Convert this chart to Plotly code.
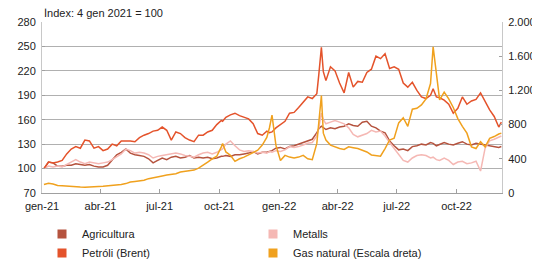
import plotly.graph_objects as go

dates = [
    "2021-01-04", "2021-01-11", "2021-01-18", "2021-01-25", "2021-02-01", "2021-02-08", "2021-02-15", "2021-02-22",
    "2021-03-01", "2021-03-08", "2021-03-15", "2021-03-22", "2021-03-29", "2021-04-05", "2021-04-12", "2021-04-19",
    "2021-04-26", "2021-05-03", "2021-05-10", "2021-05-17", "2021-05-24", "2021-05-31", "2021-06-07", "2021-06-14",
    "2021-06-21", "2021-06-28", "2021-07-05", "2021-07-12", "2021-07-19", "2021-07-26", "2021-08-02", "2021-08-09",
    "2021-08-16", "2021-08-23", "2021-08-30", "2021-09-06", "2021-09-13", "2021-09-20", "2021-09-27", "2021-10-04",
    "2021-10-06", "2021-10-11", "2021-10-18", "2021-10-25", "2021-11-01", "2021-11-08", "2021-11-15", "2021-11-22",
    "2021-11-29", "2021-12-06", "2021-12-13", "2021-12-17", "2021-12-21", "2021-12-27",
    "2022-01-03", "2022-01-10", "2022-01-17", "2022-01-24", "2022-01-31", "2022-02-07", "2022-02-14", "2022-02-21",
    "2022-02-28", "2022-03-03", "2022-03-07", "2022-03-10", "2022-03-14", "2022-03-21", "2022-03-28", "2022-04-04",
    "2022-04-11", "2022-04-18", "2022-04-25", "2022-05-02", "2022-05-09", "2022-05-16", "2022-05-23", "2022-05-30",
    "2022-06-06", "2022-06-13", "2022-06-20", "2022-06-27", "2022-07-04", "2022-07-11", "2022-07-18", "2022-07-25",
    "2022-08-01", "2022-08-08", "2022-08-15", "2022-08-22", "2022-08-26", "2022-08-31", "2022-09-05", "2022-09-12",
    "2022-09-19", "2022-09-26", "2022-10-03", "2022-10-10", "2022-10-17", "2022-10-24", "2022-10-31", "2022-11-07",
    "2022-11-14", "2022-11-21", "2022-11-28", "2022-12-05", "2022-12-09",
]

agricultura = [
    100, 108, 107, 103, 103, 104, 104, 106, 105, 104, 105, 103, 102, 102, 104, 110,
    117, 120, 124, 119, 117, 116, 115, 112, 107, 110, 113, 111, 114, 115, 113, 114,
    116, 113, 114, 113, 114, 112, 113, 115, 115, 116, 115, 117, 117, 118, 119, 121,
    118, 120, 120, 121, 122, 125,
    126, 124, 127, 128, 130, 132, 134, 136, 144, 149, 152, 150, 148, 150, 149, 151,
    152, 155, 153, 152, 157, 158, 152, 150, 146, 144, 134, 128, 123, 124, 122, 127,
    128, 130, 129, 132, 131, 128, 130, 132, 130, 129, 131, 133, 130, 129, 131, 130,
    129, 128, 127, 126, 127,
]

metalls = [
    100, 103, 102, 103, 102, 105, 109, 111, 108, 106, 108, 107, 106, 107, 108, 111,
    114, 118, 124, 122, 119, 120, 119, 117, 113, 115, 116, 117, 118, 119, 118, 116,
    115, 114, 117, 119, 120, 118, 120, 123, 124, 130, 134, 128, 123, 121, 122, 121,
    119, 120, 119, 121, 120, 122,
    121, 123, 127, 126, 127, 129, 131, 132, 140, 150, 168, 160, 155, 157, 159, 157,
    155, 150, 142, 139, 141, 143, 147, 145, 146, 140, 132, 125, 118, 110, 108, 113,
    116, 117, 116, 113, 114, 111, 110, 113, 110, 105, 108, 109, 106, 107, 109, 97,
    125, 134, 136, 139, 140,
]

petroli = [
    100, 108, 107, 108, 110, 118, 124, 127, 125, 135, 134, 125, 127, 122, 124, 130,
    128, 134, 134, 134, 133, 138, 141, 143, 146, 147, 151, 147, 135, 145, 143, 138,
    135, 133, 141, 141, 145, 147, 154, 159, 158, 163, 166, 168, 165, 163, 161, 155,
    143, 141, 146, 144, 145, 150,
    154, 158, 168, 169, 175, 181, 188, 186, 192, 215, 249, 219, 208, 225, 220, 205,
    193, 218, 200, 207, 206, 218, 222, 238, 235, 241, 223, 225, 222, 205, 200, 206,
    196, 188, 186, 190, 198, 188, 187, 184, 179, 168, 174, 188, 179, 183, 185, 193,
    183, 172, 164, 151, 157,
]

gas_natural = [
    100, 115, 105, 88, 85, 80, 72, 70, 70, 68, 68, 70, 75, 78, 82, 88,
    94, 100, 110, 128, 135, 140, 150, 168, 180, 195, 200, 210, 215, 225, 245, 250,
    255, 268, 290, 320, 360, 400, 430, 540, 580, 480, 440, 370, 400, 420, 445, 470,
    500, 560, 650, 760, 910, 560,
    380, 440, 420, 410, 420, 440, 400, 390, 580, 820, 1140, 700, 620, 560, 540, 520,
    510, 540, 530, 520, 500, 480, 445, 440, 430, 520, 620, 640, 820, 880, 780, 980,
    990, 1030, 1100, 1280, 1710, 1400, 1090, 1180, 1100, 1000, 870, 780, 700, 540, 520, 600,
    540, 640, 660, 690, 700,
]

tick_dates = ["2021-01-01", "2021-04-01", "2021-07-01", "2021-10-01",
              "2022-01-01", "2022-04-01", "2022-07-01", "2022-10-01"]
tick_labels = ["gen-21", "abr-21", "jul-21", "oct-21", "gen-22", "abr-22", "jul-22", "oct-22"]

names = ["Agricultura", "Metalls", "Petróli (Brent)", "Gas natural (Escala dreta)"]
colors = ["#b5533e", "#f5b8b4", "#e4532b", "#f0a11e"]

FONT = "Liberation Sans, Arial, sans-serif"
fig = go.Figure()

series = [agricultura, metalls, petroli]
for vals, c in zip(series, colors[:3]):
    fig.add_trace(go.Scatter(x=dates, y=vals, mode="lines", line=dict(color=c, width=1.5),
                             showlegend=False, hoverinfo="skip"))
fig.add_trace(go.Scatter(x=dates, y=gas_natural, mode="lines", yaxis="y2",
                         line=dict(color=colors[3], width=1.5), showlegend=False, hoverinfo="skip"))

# legend-only square markers
for n, c in zip(names, colors):
    fig.add_trace(go.Scatter(x=[None], y=[None], mode="markers", name=n,
                             marker=dict(symbol="square", size=9, color=c)))

# the page body adds an 8px offset, so the figure is 8px smaller on each axis
fig.update_layout(
    width=532, height=253,
    margin=dict(l=34, r=38, t=14, b=68, autoexpand=False),
    paper_bgcolor="white", plot_bgcolor="white",
    font=dict(family=FONT, size=11, color="#222222"),
    separators=",.",
    showlegend=True,
    legend=dict(orientation="h", x=0.0, y=-0.155, xanchor="left", yanchor="top",
                entrywidth=166, entrywidthmode="pixels", itemwidth=30,
                font=dict(family=FONT, size=11, color="#222222"),
                bgcolor="rgba(0,0,0,0)", tracegroupgap=0),
    xaxis=dict(type="date", range=["2021-01-01", "2022-12-10"],
               tickvals=tick_dates, ticktext=tick_labels,
               showgrid=False, showline=True, linecolor="#a0a0a0", linewidth=1,
               ticks="inside", ticklen=4, tickcolor="#a0a0a0", ticklabelstandoff=3,
               tickfont=dict(size=11, color="#222222"), zeroline=False),
    yaxis=dict(range=[70, 280], dtick=30, tick0=70, showgrid=True, gridcolor="#b0b0b0",
               gridwidth=1, showline=True, linecolor="#c8c8c8", ticks="inside",
               ticklen=3, tickcolor="#a0a0a0", zeroline=False, ticklabelstandoff=3,
               tickfont=dict(size=11, color="#222222")),
    yaxis2=dict(range=[0, 2000], dtick=400, tick0=0, overlaying="y", side="right",
                showgrid=False, showline=True, linecolor="#c8c8c8", ticks="inside",
                ticklen=3, tickcolor="#a0a0a0", zeroline=False, tickformat=",.0f",
                ticklabelstandoff=3,
                tickfont=dict(size=11, color="#222222")),
    annotations=[dict(text="Índex: 4 gen 2021 = 100", xref="paper", yref="paper",
                      x=0, y=1, xanchor="left", yanchor="bottom", yshift=1,
                      showarrow=False, font=dict(family=FONT, size=11, color="#222222"))],
)

fig.write_html("out.html")
